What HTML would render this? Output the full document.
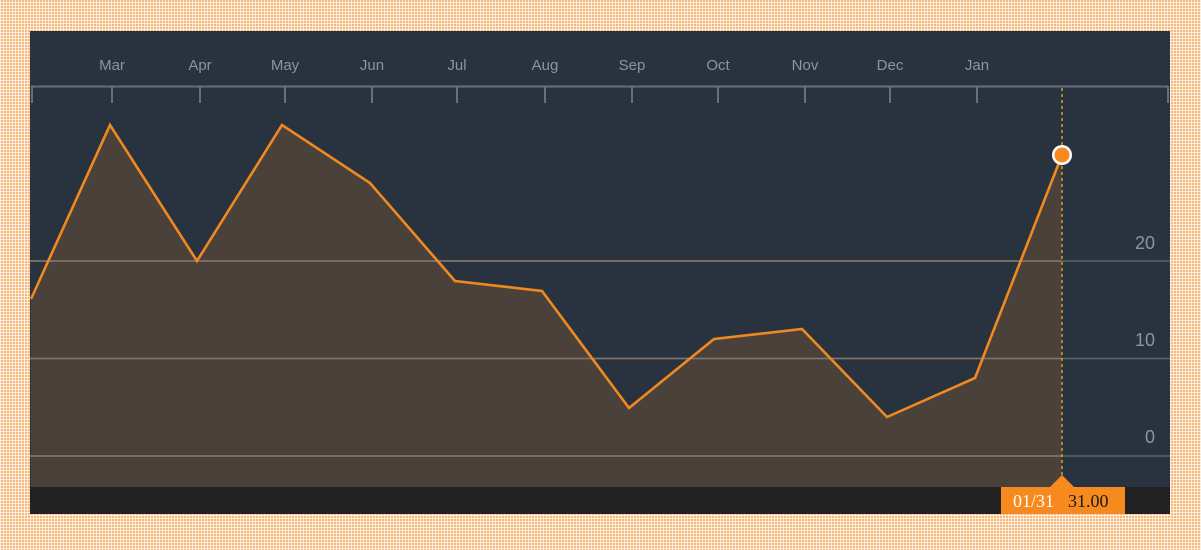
<!DOCTYPE html>
<html>
<head>
<meta charset="utf-8">
<style>
html,body{margin:0;padding:0;}
body{width:1201px;height:550px;overflow:hidden;position:relative;
background-color:#fbd3a8;
background-image:
 linear-gradient(90deg, rgba(255,255,255,0.75) 1px, transparent 1px),
 linear-gradient(0deg, rgba(255,255,255,0.75) 1px, transparent 1px),
 linear-gradient(#f8b677,#f8b677);
background-size:3px 3px,3px 3px,100% 100%;
}
svg{position:absolute;left:0;top:0;}
</style>
</head>
<body>
<svg width="1201" height="550" viewBox="0 0 1201 550" xmlns="http://www.w3.org/2000/svg">
  <rect x="30" y="31" width="1140" height="456" fill="#29333f"/>
  <rect x="30" y="487" width="1140" height="27" fill="#222222"/>
  <path d="M31,299 L110,125 L197,261 L282,125 L370,183 L455,281 L542,291 L629,408 L714,339 L802,329 L887,417 L975,378 L1062,155 L1062,487 L31,487 Z" fill="#4a413b"/>
  <g stroke="#5c636b" stroke-width="1.5">
    <line x1="30" y1="261" x2="1170" y2="261"/>
    <line x1="30" y1="358.5" x2="1170" y2="358.5"/>
    <line x1="30" y1="456" x2="1170" y2="456"/>
  </g>
  <g stroke="#85766a" stroke-width="1.5">
    <line x1="30" y1="261" x2="1062" y2="261"/>
    <line x1="30" y1="358.5" x2="1062" y2="358.5"/>
    <line x1="30" y1="456" x2="1062" y2="456"/>
  </g>
  <g stroke="#6b6f74" stroke-width="2" fill="none">
    <line x1="31" y1="86.5" x2="1168" y2="86.5"/>
    <line x1="32" y1="86" x2="32" y2="103"/>
    <line x1="112" y1="86" x2="112" y2="103"/>
    <line x1="200" y1="86" x2="200" y2="103"/>
    <line x1="285" y1="86" x2="285" y2="103"/>
    <line x1="372" y1="86" x2="372" y2="103"/>
    <line x1="457" y1="86" x2="457" y2="103"/>
    <line x1="545" y1="86" x2="545" y2="103"/>
    <line x1="632" y1="86" x2="632" y2="103"/>
    <line x1="718" y1="86" x2="718" y2="103"/>
    <line x1="805" y1="86" x2="805" y2="103"/>
    <line x1="890" y1="86" x2="890" y2="103"/>
    <line x1="977" y1="86" x2="977" y2="103"/>
    <line x1="1168" y1="86" x2="1168" y2="103"/>
  </g>
  <g font-family="Liberation Sans, sans-serif" font-size="15" fill="#8e949a" text-anchor="middle">
    <text x="112" y="70">Mar</text>
    <text x="200" y="70">Apr</text>
    <text x="285" y="70">May</text>
    <text x="372" y="70">Jun</text>
    <text x="457" y="70">Jul</text>
    <text x="545" y="70">Aug</text>
    <text x="632" y="70">Sep</text>
    <text x="718" y="70">Oct</text>
    <text x="805" y="70">Nov</text>
    <text x="890" y="70">Dec</text>
    <text x="977" y="70">Jan</text>
  </g>
  <g font-family="Liberation Sans, sans-serif" font-size="18" fill="#8e949a" text-anchor="end">
    <text x="1155" y="249">20</text>
    <text x="1155" y="346">10</text>
    <text x="1155" y="443">0</text>
  </g>
  <line x1="1062" y1="88" x2="1062" y2="478" stroke="#d9a021" stroke-width="1.5" stroke-dasharray="3,3"/>
  <polyline points="31,299 110,125 197,261 282,125 370,183 455,281 542,291 629,408 714,339 802,329 887,417 975,378 1062,155" fill="none" stroke="#f0891f" stroke-width="2.6" stroke-linejoin="miter"/>
  <circle cx="1062" cy="155" r="10" fill="#ffffff"/>
  <circle cx="1062" cy="155" r="7.5" fill="#f68a1e"/>
  <polygon points="1050,487 1062,475 1074,487" fill="#f68a1e"/>
  <rect x="1001" y="487" width="124" height="27" fill="#f68a1e"/>
  <text x="1013" y="507" font-family="Liberation Serif, serif" font-size="18" fill="#ffffff">01/31</text>
  <text x="1068" y="507" font-family="Liberation Serif, serif" font-size="18" fill="#1a1a1a">31.00</text>
</svg>
</body>
</html>
